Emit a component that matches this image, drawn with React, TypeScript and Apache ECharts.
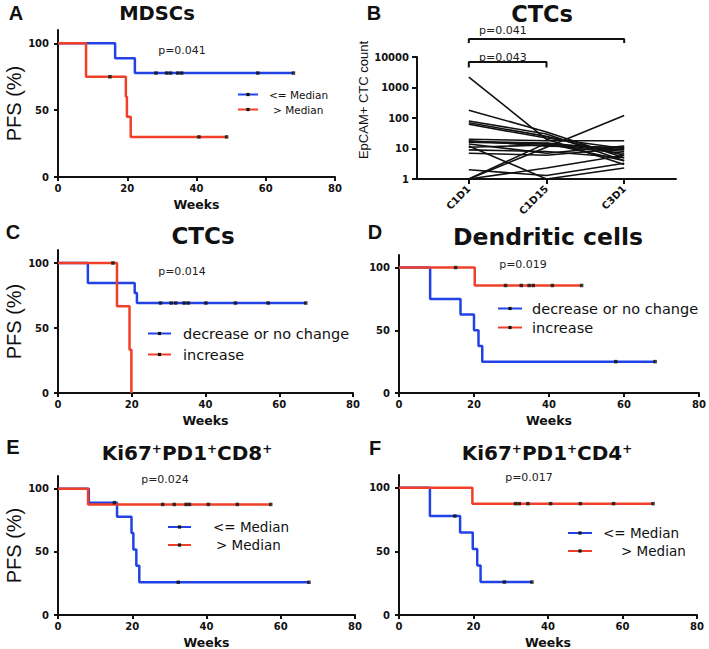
import React, { useEffect, useRef } from "react";
import * as echarts from "echarts";

// ---------------- Data ----------------
const weekTicks = [0, 20, 40, 60, 80];
const pfsTicks = [0, 50, 100];

// A: MDSCs
const mdscLowCurve = [[0, 100], [16.5, 88.9], [22.2, 77.8], [68, 77.8]];
const mdscLowCensored = [[28.3, 77.8], [31.4, 77.8], [32.5, 77.8], [34.6, 77.8], [35.7, 77.8], [57.7, 77.8], [68, 77.8]];
const mdscHighCurve = [[0, 100], [8.1, 75], [19.6, 60], [19.9, 45], [21, 30], [48.7, 30]];
const mdscHighCensored = [[15, 75], [40.7, 30], [48.7, 30]];

// B: CTC counts per patient at three timepoints
const ctcTimepoints = ["C1D1", "C1D15", "C3D1"];
const ctcLogTicks = [1, 10, 100, 1000, 10000];
const ctcC1D1 = [2200, 180, 80, 70, 62, 20, 18, 17, 16, 14, 12, 11, 9, 7, 2, 1, 1, 1];
const ctcC1D15 = [20, 35, 30, 25, 22, 18, 12, 15, 14, 7, 1, 13, 8, 6, 1.3, 11, 15, 2.3];
const ctcC3D1 = [3, 5, 4, 6, 10, 18, 11, 9, 8, 12, 2.3, 7, 5, 10, 3.3, 120, 4, 6];
const ctcPLabels = ["p=0.041", "p=0.043"];
const ctcCompareFrom = [0, 0];
const ctcCompareTo = [2, 1];

// C: CTCs change
const ctcDecCurve = [[0, 100], [8.1, 84.6], [20.8, 76.9], [21.4, 69.2], [67.2, 69.2]];
const ctcDecCensored = [[27.8, 69.2], [30.7, 69.2], [31.9, 69.2], [34.2, 69.2], [35.3, 69.2], [40.1, 69.2], [48.1, 69.2], [57, 69.2], [67.2, 69.2]];
const ctcIncCurve = [[0, 100], [16, 66.7], [19.4, 33.3], [19.9, 0]];
const ctcIncCensored = [[14.9, 100]];

// D: Dendritic cells
const dcDecCurve = [[0, 100], [8.3, 75], [16.4, 62.5], [20, 50], [21.2, 37.5], [22.2, 25], [68.3, 25]];
const dcDecCensored = [[57.8, 25], [68.3, 25]];
const dcIncCurve = [[0, 100], [20.2, 85.7], [48.7, 85.7]];
const dcIncCensored = [[15.1, 100], [28.4, 85.7], [32.6, 85.7], [34.7, 85.7], [35.8, 85.7], [40.9, 85.7], [48.7, 85.7]];

// E: Ki67+PD1+CD8+
const cd8LowCurve = [[0, 100], [8.3, 88.9], [15.9, 77.8], [19.8, 64.8], [20.3, 51.9], [21.1, 38.9], [21.9, 25.9], [67.6, 25.9]];
const cd8LowCensored = [[15.2, 88.9], [32.4, 25.9], [67.6, 25.9]];
const cd8HighCurve = [[0, 100], [8.1, 87.5], [57.3, 87.5]];
const cd8HighCensored = [[28.2, 87.5], [31.3, 87.5], [34.5, 87.5], [35.4, 87.5], [40.5, 87.5], [48.3, 87.5], [57.3, 87.5]];

// F: Ki67+PD1+CD4+
const cd4LowCurve = [[0, 100], [8.3, 77.8], [16.4, 64.8], [19.8, 51.9], [21, 38.9], [21.9, 25.9], [35.7, 25.9]];
const cd4LowCensored = [[15, 77.8], [28.3, 25.9], [35.7, 25.9]];
const cd4HighCurve = [[0, 100], [19.7, 87.5], [68.2, 87.5]];
const cd4HighCensored = [[31.3, 87.5], [32.3, 87.5], [34.6, 87.5], [40.7, 87.5], [48.7, 87.5], [57.6, 87.5], [68.2, 87.5]];

const kmPValues = ["p=0.041", "p=0.014", "p=0.019", "p=0.024", "p=0.017"];
const medianNames = ["<= Median", "> Median"];
const changeNames = ["decrease or no change", "increase"];

// ---------------- Styles ----------------
const BLUE = "#2242e6";
const RED = "#f0402a";
const INK = "#111";
const BOLD_FONT = "DejaVu Sans";
const axisLineStyle = { color: INK, width: 2 };
const tickLabel = { fontFamily: BOLD_FONT, fontWeight: "bold" as const, fontSize: 10, color: INK };

function kmX(g: number) {
  return {
    type: "value", gridIndex: g, min: 0, max: 80, interval: 20,
    name: "Weeks", nameLocation: "middle", nameGap: 21,
    nameTextStyle: { fontFamily: BOLD_FONT, fontWeight: "bold", fontSize: 12.5, color: INK },
    axisLine: { show: true, onZero: false, lineStyle: axisLineStyle },
    axisTick: { show: true, length: 4, lineStyle: axisLineStyle, customValues: weekTicks },
    axisLabel: { ...tickLabel, margin: 6, customValues: weekTicks },
    splitLine: { show: false },
  };
}
function kmY(g: number, showName: boolean) {
  return {
    type: "value", gridIndex: g, min: 0, max: 110,
    name: showName ? "PFS (%)" : "", nameLocation: "middle", nameGap: 27,
    nameTextStyle: { fontFamily: "Liberation Sans", fontSize: 20, color: INK },
    axisLine: { show: true, onZero: false, lineStyle: axisLineStyle },
    axisTick: { show: true, length: 4, lineStyle: axisLineStyle, customValues: pfsTicks },
    axisLabel: { ...tickLabel, margin: 9, customValues: pfsTicks },
    splitLine: { show: false },
  };
}

function km(name: string, color: string, curve: number[][], censored: number[][], g: number) {
  return [
    {
      type: "line", name, xAxisIndex: g, yAxisIndex: g, data: curve, step: "end",
      symbol: "rect", showSymbol: false, silent: true,
      lineStyle: { color, width: 2.5 }, itemStyle: { color },
    },
    {
      type: "scatter", name: name + " (censored)", xAxisIndex: g, yAxisIndex: g, data: censored,
      symbol: "rect", symbolSize: 3.5, silent: true, z: 4, itemStyle: { color: INK },
    },
  ];
}

function legend(names: string[], left: number, top: number, itemWidth: number, fontSize: number, gap: number, pads: number[]) {
  return {
    orient: "vertical", left, top, padding: 0, itemGap: gap, itemWidth, itemHeight: 4,
    selectedMode: false,
    textStyle: { fontFamily: "DejaVu Sans", fontSize, color: INK },
    data: names.map((n, i) => ({
      name: n,
      itemStyle: { color: INK, borderWidth: 0 },
      textStyle: { padding: [0, 0, 0, pads[i]] },
    })),
  };
}

const ctcSeries = ctcC1D1.map((v, i) => ({
  type: "line", name: "Patient " + (i + 1), xAxisIndex: 1, yAxisIndex: 1,
  data: [[0, v], [1, ctcC1D15[i]], [2, ctcC3D1[i]]],
  symbol: "none", silent: true, lineStyle: { color: INK, width: 1.6 },
}));

// bracket heights in CTC-count units (log axis), foot = end of vertical ticks
const bracketTop = [39000, 6900];
const bracketFoot = [28800, 4500];
const bracketSeries = ctcPLabels.map((_, i) => ({
  type: "line", name: "bracket " + i, xAxisIndex: 1, yAxisIndex: 1, clip: false, silent: true,
  symbol: "none", lineStyle: { color: INK, width: 2 },
  data: [[ctcCompareFrom[i], bracketFoot[i]], [ctcCompareFrom[i], bracketTop[i]], [ctcCompareTo[i], bracketTop[i]], [ctcCompareTo[i], bracketFoot[i]]],
}));

function txt(text: string, x: number, y: number, fontSize: number, opts: any = {}) {
  return {
    type: "text", x, y, silent: true,
    style: {
      text, fill: opts.fill || INK, fontSize, fontFamily: opts.fontFamily || BOLD_FONT,
      fontWeight: opts.fontWeight || "normal", align: opts.align || "center", verticalAlign: "middle",
      rich: opts.rich,
    },
  };
}
const supRich = (size: number) => ({
  b: { fontSize: size, fontFamily: BOLD_FONT, fontWeight: "bold", fill: INK },
  sup: { fontSize: size * 0.6, fontFamily: BOLD_FONT, fontWeight: "bold", fill: INK, verticalAlign: "top" },
});

const option: any = {
  animation: false,
  backgroundColor: "#fff",
  grid: [
    { left: 58, top: 30, width: 277, height: 147, outerBoundsMode: "none" },
    { left: 417, top: 57, width: 259, height: 122, outerBoundsMode: "none" },
    { left: 58, top: 250, width: 295, height: 143, outerBoundsMode: "none" },
    { left: 399, top: 255, width: 300, height: 138, outerBoundsMode: "none" },
    { left: 58, top: 476, width: 297, height: 139, outerBoundsMode: "none" },
    { left: 399, top: 475, width: 298, height: 140, outerBoundsMode: "none" },
  ],
  xAxis: [
    kmX(0),
    {
      type: "value", gridIndex: 1, min: -0.667, max: 2.667,
      axisLine: { show: true, onZero: false, lineStyle: axisLineStyle },
      axisTick: { show: true, length: 5, lineStyle: axisLineStyle, customValues: [0, 1, 2] },
      axisLabel: { ...tickLabel, margin: 8, rotate: 45, customValues: [0, 1, 2], formatter: (v: number) => ctcTimepoints[Math.round(v)] ?? "" },
      splitLine: { show: false },
    },
    kmX(2), kmX(3), kmX(4), kmX(5),
  ],
  yAxis: [
    kmY(0, true),
    {
      type: "log", gridIndex: 1, logBase: 10, min: 1, max: 10000,
      name: "EpCAM+ CTC count", nameLocation: "middle", nameGap: 44,
      nameTextStyle: { fontFamily: "Liberation Sans", fontSize: 13, color: INK, padding: [0, 0, 0, 36] },
      axisLine: { show: true, onZero: false, lineStyle: axisLineStyle },
      axisTick: { show: true, length: 5, lineStyle: axisLineStyle, customValues: ctcLogTicks },
      axisLabel: { ...tickLabel, margin: 8, customValues: ctcLogTicks, formatter: (v: number) => String(Math.round(v)) },
      splitLine: { show: false },
    },
    kmY(2, true), kmY(3, false), kmY(4, true), kmY(5, false),
  ],
  legend: [
    legend(medianNames, 237, 89, 20, 10.5, 4, [6, 10]),
    legend(changeNames, 147, 326, 23, 14.5, 6, [7, 7]),
    legend(changeNames, 497, 301, 24, 14.5, 4, [5, 5]),
    legend(medianNames, 167, 520, 23, 13.5, 4, [17, 20]),
    legend(medianNames, 567, 526, 24, 13.5, 4, [6, 24]),
  ],
  series: [
    ...km(medianNames[0], BLUE, mdscLowCurve, mdscLowCensored, 0),
    ...km(medianNames[1], RED, mdscHighCurve, mdscHighCensored, 0),
    ...ctcSeries,
    ...bracketSeries,
    ...km(changeNames[0], BLUE, ctcDecCurve, ctcDecCensored, 2),
    ...km(changeNames[1], RED, ctcIncCurve, ctcIncCensored, 2),
    ...km(changeNames[0] + " ", BLUE, dcDecCurve, dcDecCensored, 3),
    ...km(changeNames[1] + " ", RED, dcIncCurve, dcIncCensored, 3),
    ...km(medianNames[0] + " ", BLUE, cd8LowCurve, cd8LowCensored, 4),
    ...km(medianNames[1] + " ", RED, cd8HighCurve, cd8HighCensored, 4),
    ...km(medianNames[0] + "  ", BLUE, cd4LowCurve, cd4LowCensored, 5),
    ...km(medianNames[1] + "  ", RED, cd4HighCurve, cd4HighCensored, 5),
  ],
  graphic: [
    txt("A", 16, 13, 20, { fontFamily: "Liberation Sans", fontWeight: "bold" }),
    txt("B", 374, 13, 20, { fontFamily: "Liberation Sans", fontWeight: "bold" }),
    txt("C", 13, 232, 20, { fontFamily: "Liberation Sans", fontWeight: "bold" }),
    txt("D", 375, 232, 20, { fontFamily: "Liberation Sans", fontWeight: "bold" }),
    txt("E", 13, 447, 20, { fontFamily: "Liberation Sans", fontWeight: "bold" }),
    txt("F", 375, 448, 20, { fontFamily: "Liberation Sans", fontWeight: "bold" }),
    txt("MDSCs", 157, 13, 19.5, { fontWeight: "bold" }),
    txt("CTCs", 542, 14, 22.5, { fontWeight: "bold" }),
    txt("CTCs", 203, 236, 23, { fontWeight: "bold" }),
    txt("Dendritic cells", 548, 237, 23.5, { fontWeight: "bold" }),
    txt("{b|Ki67}{sup|+}{b|PD1}{sup|+}{b|CD8}{sup|+}", 187, 453, 20, { rich: supRich(20) }),
    txt("{b|Ki67}{sup|+}{b|PD1}{sup|+}{b|CD4}{sup|+}", 547, 453, 20, { rich: supRich(20) }),
    txt(kmPValues[0], 182, 50, 11, { fill: "#222" }),
    txt(ctcPLabels[0], 479, 30, 11, { fill: "#222", align: "left" }),
    txt(ctcPLabels[1], 479, 57, 11, { fill: "#222", align: "left" }),
    txt(kmPValues[1], 182, 271, 11, { fill: "#222" }),
    txt(kmPValues[2], 523, 264, 11, { fill: "#222" }),
    txt(kmPValues[3], 165, 479, 11, { fill: "#222" }),
    txt(kmPValues[4], 529, 477, 11, { fill: "#222" }),
  ],
};

export default function App() {
  const ref = useRef<HTMLDivElement>(null);
  useEffect(() => {
    const chart = echarts.init(ref.current!, null, { renderer: "svg" });
    chart.setOption(option);
    return () => chart.dispose();
  }, []);
  return (
    <div
      ref={ref}
      style={{ position: "absolute", left: 0, top: 0, width: 709, height: 649, background: "#fff" }}
    />
  );
}
